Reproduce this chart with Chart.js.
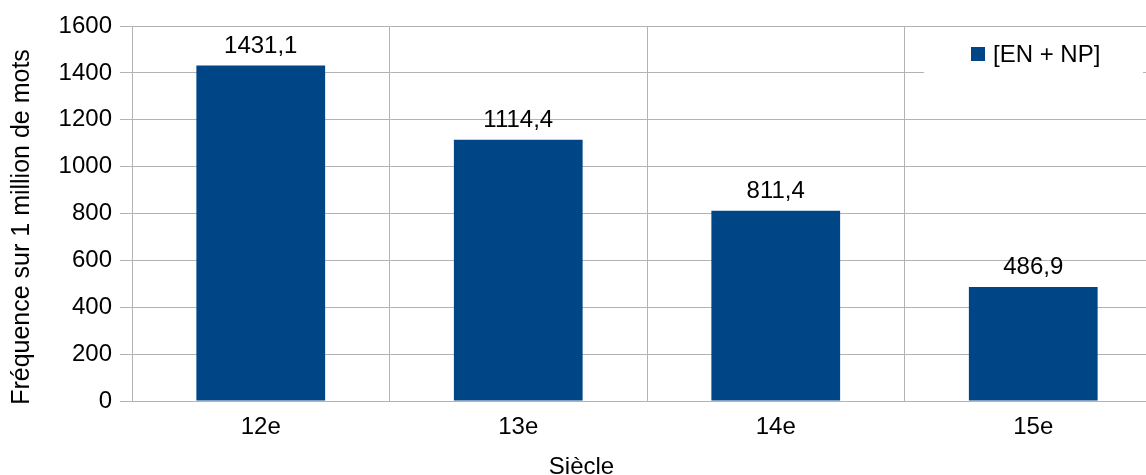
<!DOCTYPE html>
<html>
<head>
<meta charset="utf-8">
<script src="https://cdn.jsdelivr.net/npm/chart.js@4"></script>
<style>
  html, body { margin: 0; padding: 0; overflow: hidden; background: #fff; }
  #wrap { width: 1162px; height: 475px; }
</style>
</head>
<body>
<div id="wrap"><canvas id="chart" width="1162" height="475"></canvas></div>
<script>
// Data
const categories = ["12e", "13e", "14e", "15e"];
const values = [1431.1, 1114.4, 811.4, 486.9];
const seriesName = "[EN + NP]";
const xTitle = "Siècle";
const yTitle = "Fréquence sur 1 million de mots";

const barColor = "#004586";
const gridColor = "#b3b3b3";
const font = '"Liberation Sans", Arial, sans-serif';

// french decimal comma
function fmt(v) {
  return v.toFixed(1).replace(".", ",");
}

// labels, legend and axis titles drawn on top
const overlay = {
  id: "overlay",
  afterDatasetsDraw(chart) {
    const ctx = chart.ctx;
    const meta = chart.getDatasetMeta(0);
    ctx.save();
    ctx.font = "24px " + font;
    ctx.fillStyle = "#000";
    ctx.textAlign = "center";
    ctx.textBaseline = "alphabetic";
    meta.data.forEach((bar, i) => {
      ctx.fillText(fmt(values[i]), bar.x, bar.y - 13);
    });

    // legend box
    ctx.fillStyle = "#fff";
    ctx.fillRect(924, 27.5, 219, 45.5);
    ctx.fillStyle = barColor;
    ctx.fillRect(971, 47, 14, 14);
    ctx.fillStyle = "#000";
    ctx.textAlign = "left";
    ctx.textBaseline = "middle";
    ctx.fillText(seriesName, 993, 55);

    // axis titles
    ctx.textAlign = "center";
    ctx.fillText(xTitle, 581.5, 467);
    ctx.font = "25px " + font;
    ctx.translate(22, 227);
    ctx.rotate(-Math.PI / 2);
    ctx.fillText(yTitle, 0, 0);
    ctx.restore();
  }
};

new Chart(document.getElementById("chart"), {
  type: "bar",
  data: {
    labels: categories,
    datasets: [
      {
        label: seriesName,
        data: values,
        backgroundColor: barColor,
        borderWidth: 0,
        barPercentage: 0.5,
        categoryPercentage: 1.0,
      },
    ],
  },
  options: {
    responsive: false,
    animation: false,
    events: [],
    layout: { padding: { top: 26, right: 0, bottom: 0, left: 0 } },
    plugins: {
      legend: { display: false },
      tooltip: { enabled: false },
    },
    scales: {
      x: {
        grid: { color: gridColor, drawTicks: false, offset: true },
        border: { color: gridColor },
        ticks: { color: "#000", font: { family: font, size: 24 }, padding: 12 },
        afterFit(scale) { scale.height = 74; },
      },
      y: {
        min: 0,
        max: 1600,
        grid: { color: gridColor, tickLength: 12 },
        border: { color: gridColor },
        ticks: {
          stepSize: 200,
          color: "#000",
          padding: 8,
          font: { family: font, size: 24 },
          callback: (v) => String(v),
        },
        afterFit(scale) { scale.width = 132; },
      },
    },
  },
  plugins: [overlay],
});
</script>
</body>
</html>
